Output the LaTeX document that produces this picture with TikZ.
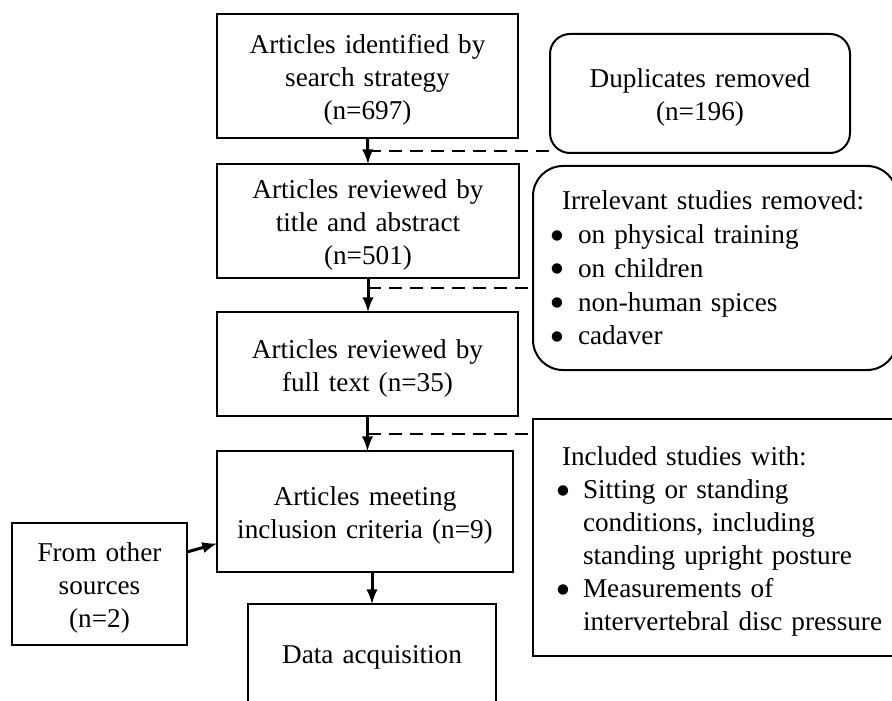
\documentclass[tikz,border=0pt]{standalone}
\usepackage{fontspec}
\setmainfont{Liberation Serif}
\newfontfamily\dotfont{DejaVu Sans}
\usetikzlibrary{arrows}
\usetikzlibrary{calc}

\newcommand{\listdot}[1]{\makebox[#1][l]{\raisebox{2.2 pt}{\dotfont\fontsize{6.8}{6.8}\selectfont ●}}}

\tikzset{
  stage/.style = {draw, line width = 1 pt, inner sep = 0 pt, outer sep = 0 pt, %
    align = center, font = \fontsize{13.6}{16.5}\selectfont},
  sunk/.style = {execute at begin node = {\rule{0 pt}{13.8 pt}}},
  flow/.style = {line width = 1.5 pt, -latex},
  side/.style = {line width = 1 pt, dash pattern = on 6.5 pt off 4 pt},
}

\begin{document}
\begin{tikzpicture}[x = 0.5 pt, y = -0.5 pt]
    \useasboundingbox (0, 0) rectangle (892, 700);
    \clip (0, 0) rectangle (892, 700);

    % main column
    \node[stage, sunk, text width = 150.5 pt, minimum height = 62 pt] (ident) %
      at (367.5, 76) {Articles identified by\\search strategy\\(n=697)};
    \node[stage, sunk, text width = 151 pt, minimum height = 57 pt] (title) %
      at (368, 221) {Articles reviewed by\\title and abstract\\(n=501)};
    \node[stage, sunk, text width = 150.5 pt, minimum height = 52 pt] (full) %
      at (367.5, 364) {Articles reviewed by\\full text (n=35)};
    \node[stage, sunk, text width = 148 pt, minimum height = 60.5 pt] (meet) %
      at (365, 511.5) {Articles meeting\\inclusion criteria (n=9)};
    \node[stage, text width = 124 pt, minimum height = 53 pt] (data) %
      at (372, 657) {Data acquisition};
    \node[stage, sunk, text width = 87.5 pt, minimum height = 61 pt] (other) %
      at (99.5, 584) {From other\\sources\\(n=2)};

    % boxes on the right
    \node[stage, sunk, rounded corners = 10 pt, text width = 150 pt, minimum height = 59.5 pt] (dup) %
      at (700, 93.5) {Duplicates removed\\(n=196)};
    \node[stage, rounded corners = 15 pt, align = left, inner xsep = 9 pt, text width = 164 pt, %
      minimum height = 102 pt, font = \fontsize{13.6}{16.9}\selectfont] (irr) at (715, 268) {%
        \hspace*{5.5 pt}Irrelevant studies removed:\\
        \listdot{13.5 pt}on physical training\\
        \listdot{13.5 pt}on children\\
        \listdot{13.5 pt}non-human spices\\
        \listdot{13.5 pt}cadaver
      };
    \node[stage, sunk, align = left, inner xsep = 12 pt, text width = 175 pt, %
      minimum height = 118.5 pt] (incl) at (732, 537.5) {%
        \hspace*{2.5 pt}Included studies with:\\
        \listdot{13 pt}Sitting or standing\\
        \hspace*{13 pt}conditions, including\\
        \hspace*{13 pt}standing upright posture\\
        \listdot{13 pt}Measurements of\\
        \hspace*{13 pt}intervertebral disc pressure
      };

    \coordinate (m1) at ($(ident.south)!0.5!(title.north)$);
    \coordinate (m2) at ($(title.south)!0.3!(full.north)$);
    \coordinate (m3) at ($(full.south)!0.5!(full.south |- meet.north)$);

    \draw[flow] (ident.south) -- (title.north);
    \draw[flow] (title.south) -- (title.south |- full.north);
    \draw[flow] (full.south) -- (full.south |- meet.north);
    \draw[flow] (meet.south -| data.north) -- (data.north);
    \draw[flow] ([yshift = 16 pt]other.east) -- ([yshift = -16 pt]meet.west);

    \draw[side] (m1) -- (m1 -| dup.west);
    \draw[side] (m2) -- (m2 -| irr.west);
    \draw[side] (m3) -- (m3 -| incl.west);
\end{tikzpicture}
\end{document}
